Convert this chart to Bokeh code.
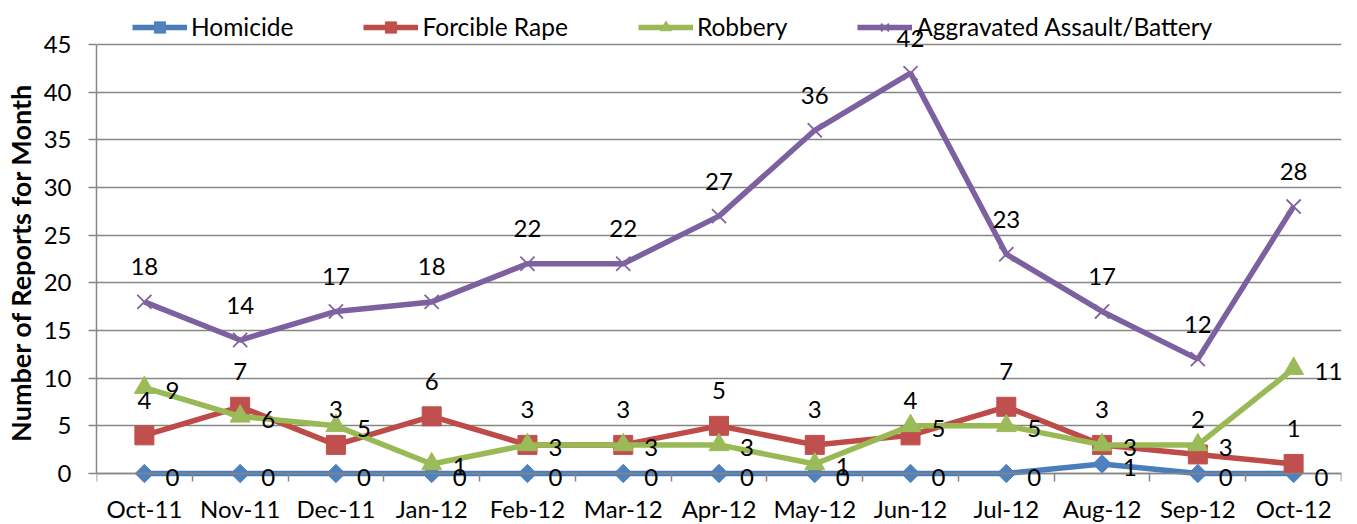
import math
from bokeh.plotting import figure
from bokeh.models import (ColumnDataSource, FixedTicker, Range1d, Legend, LegendItem, LabelSet)
from bokeh.core.properties import value
from bokeh.embed import file_html
from bokeh.resources import INLINE

months = ["Oct-11", "Nov-11", "Dec-11", "Jan-12", "Feb-12", "Mar-12", "Apr-12",
          "May-12", "Jun-12", "Jul-12", "Aug-12", "Sep-12", "Oct-12"]
homicide = [0, 0, 0, 0, 0, 0, 0, 0, 0, 0, 1, 0, 0]
rape = [4, 7, 3, 6, 3, 3, 5, 3, 4, 7, 3, 2, 1]
robbery = [9, 6, 5, 1, 3, 3, 3, 1, 5, 5, 3, 3, 11]
assault = [18, 14, 17, 18, 22, 22, 27, 36, 42, 23, 17, 12, 28]
y_ticks = [0, 5, 10, 15, 20, 25, 30, 35, 40, 45]

FONT = "Lato"
FS = "24px"
GRID = "#868686"

# layout: y=0 sits at 473px, y=45 at 44px in a 524px tall frame
Y_MIN, Y_MAX = 0, 45
H = 524
PX0, PX45 = 473, 44
ppu = (PX0 - PX45) / (Y_MAX - Y_MIN)
y_start = Y_MIN - (H - PX0) / ppu
y_end = Y_MAX + PX45 / ppu

xs = list(range(len(months)))

p = figure(width=1357, height=H, output_backend="svg", toolbar_location=None,
           x_range=Range1d(-0.5, len(months) - 0.5), y_range=Range1d(y_start, y_end),
           min_border_left=93, min_border_right=16, min_border_top=0, min_border_bottom=0)
p.outline_line_color = None
p.background_fill_color = "white"
p.xgrid.grid_line_color = None
p.ygrid.grid_line_color = GRID
p.ygrid.grid_line_width = 1.5
p.ygrid.ticker = FixedTicker(ticks=y_ticks)

# x axis: line + boundary ticks at y=0; month names drawn as labels below
p.xaxis.fixed_location = 0
p.xaxis.ticker = FixedTicker(ticks=xs, minor_ticks=[i - 0.5 for i in range(len(months) + 1)])
p.xaxis.major_label_overrides = {i: "" for i in xs}
p.xaxis.major_label_text_font_size = "0px"
p.xaxis.major_label_standoff = 0
p.xaxis.major_tick_out = 0
p.xaxis.major_tick_in = 0
p.xaxis.minor_tick_out = 8
p.xaxis.minor_tick_in = 0
p.xaxis.minor_tick_line_color = GRID
p.xaxis.minor_tick_line_width = 1.5
p.xaxis.axis_line_color = GRID
p.xaxis.axis_line_width = 1.5

# y axis
p.yaxis.ticker = FixedTicker(ticks=y_ticks)
p.yaxis.bounds = (Y_MIN, Y_MAX)
p.yaxis.minor_tick_line_color = None
p.yaxis.major_tick_out = 8
p.yaxis.major_tick_in = 0
p.yaxis.major_tick_line_color = GRID
p.yaxis.major_tick_line_width = 1.5
p.yaxis.axis_line_color = GRID
p.yaxis.axis_line_width = 1.5
p.yaxis.major_label_standoff = 17
p.yaxis.major_label_text_font = FONT
p.yaxis.major_label_text_font_size = FS
p.yaxis.major_label_text_color = "black"
p.yaxis.axis_label = "Number of Reports for Month"
p.yaxis.axis_label_text_font = FONT
p.yaxis.axis_label_text_font_size = "27px"
p.yaxis.axis_label_text_font_style = "bold"
p.yaxis.axis_label_text_color = "black"
p.yaxis.axis_label_standoff = 4

# month labels under the axis
msrc = ColumnDataSource(dict(x=xs, y=[0] * len(xs), t=months))
p.add_layout(LabelSet(x="x", y="y", text="t", source=msrc, text_align="center",
                      text_baseline="middle", y_offset=-35,
                      text_font=value(FONT), text_font_size=value(FS), text_color="black"))

series = [
    ("Homicide", homicide, "#4A7EBB", "#4F81BD", "square", 13, math.pi / 4),
    ("Forcible Rape", rape, "#BE4B48", "#C0504D", "square", 19, 0),
    ("Robbery", robbery, "#98B954", "#9BBB59", "triangle", 20, 0),
    ("Aggravated Assault/Battery", assault, "#7D60A0", "#8064A2", "x", 20, 0),
]

items = []
for name, vals, lc, mc, marker, size, ang in series:
    src = ColumnDataSource(dict(x=xs, y=vals))
    ln = p.line("x", "y", source=src, line_color=lc, line_width=5.5)
    if marker == "x":
        mk = p.scatter("x", "y", source=src, marker=marker, size=size, line_color=mc, line_width=1.8)
    else:
        mk = p.scatter("x", "y", source=src, marker=marker, size=size, angle=ang,
                       fill_color=mc, line_color=mc)
    items.append(LegendItem(label=name, renderers=[ln, mk]))

# data labels (offsets in screen px, positive = up)
label_specs = [
    (homicide, "left", 21, -4),
    (rape, "center", 0, 35),
    (robbery, "left", 21, -3),
    (assault, "center", 0, 35),
]
for vals, align, xo, yo in label_specs:
    src = ColumnDataSource(dict(x=xs, y=vals, t=[str(v) for v in vals]))
    p.add_layout(LabelSet(x="x", y="y", text="t", source=src, text_align=align,
                          text_baseline="middle", x_offset=xo, y_offset=yo,
                          text_font=value(FONT), text_font_size=value(FS), text_color="black"))

legend = Legend(items=items, orientation="horizontal", location=(36, H - 41),
                glyph_width=55, glyph_height=28, label_standoff=4, spacing=70,
                padding=4, margin=0, border_line_color=None, background_fill_alpha=0,
                label_text_font=FONT, label_text_font_size="24.5px", label_text_color="black")
p.add_layout(legend, "center")

open("out.html", "w").write(file_html(p, INLINE))
